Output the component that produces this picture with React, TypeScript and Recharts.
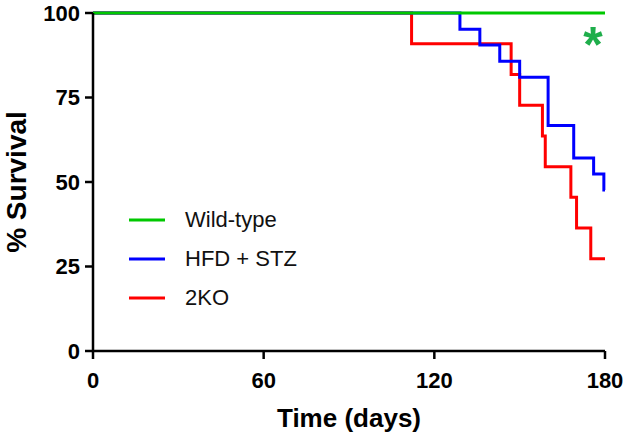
import { LineChart, Line, XAxis, YAxis, Legend } from "recharts";

const X_TICKS = [0, 60, 120, 180];
const Y_TICKS = [0, 25, 50, 75, 100];

// Kaplan-Meier steps (day, % survival)
const WT_DAYS = [0, 180];
const WT_SURV = [100, 100];

const HFD_DAYS = [0, 129, 136, 143, 150, 160, 169, 176, 179.6, 180];
const HFD_SURV = [100, 95.2, 90.5, 85.7, 81.0, 66.7, 57.1, 52.4, 47.6, 47.6];

const KO_DAYS = [0, 112, 147, 150, 158, 159, 168, 170, 175, 180];
const KO_SURV = [100, 90.9, 81.8, 72.7, 63.6, 54.5, 45.5, 36.4, 27.3, 27.3];

const SERIES = [
  { name: "Wild-type", days: WT_DAYS, surv: WT_SURV, color: "#00c800" },
  { name: "HFD + STZ", days: HFD_DAYS, surv: HFD_SURV, color: "#0000ff" },
  { name: "2KO", days: KO_DAYS, surv: KO_SURV, color: "#ff0000" },
];

const FONT = "Arial, 'Liberation Sans', sans-serif";
const TICK = { fill: "#000", fontSize: 22, fontWeight: 700, fontFamily: FONT };

const toPoints = (days: number[], surv: number[]) =>
  days.map((t, i) => ({ t, s: surv[i] }));

function LegendBox({ payload }: any) {
  // keep the reference order, not recharts' alphabetical one
  const items = SERIES.map((s) =>
    (payload || []).find((p: any) => p.value === s.name),
  ).filter(Boolean);
  return (
    <div style={{ fontFamily: FONT, fontSize: 22, color: "#111" }}>
      {items.map((p: any) => (
        <div
          key={p.value}
          style={{ display: "flex", alignItems: "center", height: 39 }}
        >
          <svg width={36} height={6} style={{ marginRight: 20 }}>
            <line x1={0} y1={3} x2={36} y2={3} stroke={p.color} strokeWidth={3} />
          </svg>
          <span>{p.value}</span>
        </div>
      ))}
    </div>
  );
}

export default function App() {
  return (
    <div style={{ position: "absolute", left: 0, top: 0, width: 627, height: 437, background: "#fff" }}>
      <LineChart
        width={627}
        height={437}
        margin={{ top: 13, right: 22, left: 13, bottom: 0 }}
      >
        <XAxis
          type="number"
          dataKey="t"
          domain={[0, 180]}
          ticks={X_TICKS}
          allowDuplicatedCategory={false}
          height={86}
          tick={TICK}
          tickSize={8}
          tickMargin={13}
          stroke="#000"
          strokeWidth={2.5}
          label={{
            value: "Time (days)",
            position: "insideBottom",
            offset: 10,
            fill: "#000",
            fontSize: 26,
            fontWeight: 700,
            fontFamily: FONT,
          }}
        />
        <YAxis
          type="number"
          domain={[0, 100]}
          ticks={Y_TICKS}
          width={80}
          tick={TICK}
          tickSize={8}
          tickMargin={5}
          stroke="#000"
          strokeWidth={2.5}
          label={{
            value: "% Survival",
            angle: -90,
            position: "center",
            dx: -37,
            fill: "#000",
            fontSize: 28,
            fontWeight: 700,
            fontFamily: FONT,
          }}
        />
        <Legend
          layout="vertical"
          align="center"
          verticalAlign="middle"
          content={<LegendBox />}
          wrapperStyle={{ left: 129, top: 200, width: 200 }}
        />
        {[...SERIES].reverse().map((s) => (
          <Line
            key={s.name}
            name={s.name}
            data={toPoints(s.days, s.surv)}
            dataKey="s"
            type="stepAfter"
            stroke={s.color}
            strokeWidth={3}
            dot={false}
            activeDot={false}
            isAnimationActive={false}
          />
        ))}
      </LineChart>
      <svg
        width={627}
        height={437}
        style={{ position: "absolute", left: 0, top: 0, pointerEvents: "none" }}
      >
        <text x={593} y={62} textAnchor="middle" fill="#1fae4b" fontSize={50} fontWeight={700} fontFamily={FONT}>
          *
        </text>
      </svg>
    </div>
  );
}
